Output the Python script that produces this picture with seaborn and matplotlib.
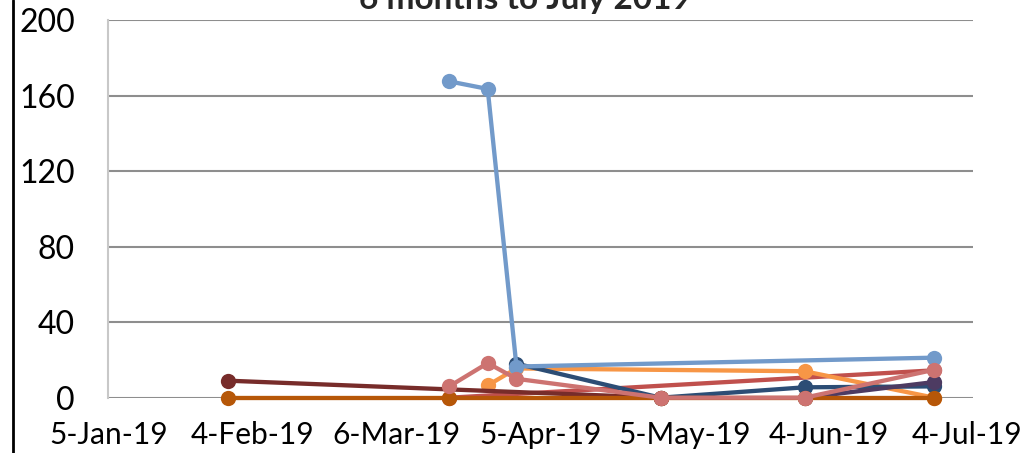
import matplotlib
matplotlib.use("Agg")
import matplotlib.pyplot as plt
import matplotlib.dates as mdates
import matplotlib.transforms as mtransforms
from matplotlib.ticker import FuncFormatter, FixedLocator
from matplotlib.lines import Line2D
import pandas as pd
import seaborn as sns

# ---- data ----
title = "6 months to July 2019"
yticks = [0, 40, 80, 120, 160, 200]

red_dates = ["2019-03-17", "2019-06-26"]
red_vals = [0, 14.5]

orange_dates = ["2019-03-25", "2019-03-31", "2019-05-30", "2019-06-26"]
orange_vals = [6.5, 15.5, 14, 0]

darkblue_dates = ["2019-03-31", "2019-04-30", "2019-05-30", "2019-06-26"]
darkblue_vals = [18, 0, 5.5, 6]

maroon_dates = ["2019-01-30", "2019-04-30"]
maroon_vals = [9, 0]

purple_dates = ["2019-05-30", "2019-06-26"]
purple_vals = [0, 8.3]

brown_dates = ["2019-01-30", "2019-03-17", "2019-04-30", "2019-05-30", "2019-06-26"]
brown_vals = [0, 0, 0, 0, 0]

lightblue_dates = ["2019-03-17", "2019-03-25", "2019-03-31", "2019-06-26"]
lightblue_vals = [167.5, 163.5, 16.5, 21.2]

pink_dates = ["2019-03-17", "2019-03-25", "2019-03-31", "2019-04-30", "2019-05-30", "2019-06-26"]
pink_vals = [6, 18.3, 10, 0, 0, 14.8]

series = [
    (red_dates, red_vals, "#C0504D"),
    (orange_dates, orange_vals, "#F79646"),
    (darkblue_dates, darkblue_vals, "#2C4D75"),
    (maroon_dates, maroon_vals, "#772C2A"),
    (purple_dates, purple_vals, "#4D3B62"),
    (brown_dates, brown_vals, "#B65708"),
    (lightblue_dates, lightblue_vals, "#729ACA"),
    (pink_dates, pink_vals, "#CD7371"),
]

sns.set_style("white")
plt.rcParams["font.family"] = ["Lato", "DejaVu Sans"]

fig = plt.figure(figsize=(10.34, 4.53), dpi=100)
ax = fig.add_axes([108.3 / 1034, 1 - 397.7 / 453, (972.7 - 108.3) / 1034, (397.7 - 20) / 453])

for i, (d, v, c) in enumerate(series):
    df = pd.DataFrame({"date": pd.to_datetime(d), "value": v})
    sns.lineplot(data=df, x="date", y="value", ax=ax, color=c, linewidth=3.1,
                 marker="o", markersize=11, markeredgewidth=0, sort=False,
                 zorder=3 + i, clip_on=False)

start = pd.Timestamp("2019-01-05")
end = pd.Timestamp("2019-07-04")
ax.set_xlim(start, end)
ax.set_ylim(0, 200)
ticks = pd.date_range(start, end, freq="30D")
ax.xaxis.set_major_locator(FixedLocator(mdates.date2num(ticks)))

def fmt(x, pos):
    d = mdates.num2date(x)
    return f"{d.day}-{d.strftime('%b')}-{d.strftime('%y')}"

ax.xaxis.set_major_formatter(FuncFormatter(fmt))
ax.set_yticks(yticks)
ax.set_xlabel("")
ax.set_ylabel("")

ax.grid(axis="y", color="#8e8e8e", linewidth=1.5, zorder=0)
ax.grid(axis="x", visible=False)
ax.set_axisbelow(True)
for s in ["top", "right", "bottom"]:
    ax.spines[s].set_visible(False)
ax.spines["left"].set_color("#c8c8c8")
ax.spines["left"].set_linewidth(1.5)

ax.tick_params(axis="x", length=0, labelsize=21.5, colors="black", pad=17)
ax.tick_params(axis="y", length=0, labelsize=23, colors="black", pad=24)

# keep the last date label inside the figure, as the reference does
fig.canvas.draw()
xlabels = ax.get_xticklabels()
if xlabels:
    last = xlabels[-1]
    last.set_transform(last.get_transform() +
                       mtransforms.ScaledTranslation(-6 / 100, 0, fig.dpi_scale_trans))

fig.text(525 / 1034, 1 - 9 / 453, title, ha="center", va="baseline",
         fontsize=24, fontweight="bold")

fig.add_artist(Line2D([13 / 1034, 13 / 1034], [0, 1], color="black", linewidth=2,
                      transform=fig.transFigure))

fig.savefig("out.png", dpi=100)
